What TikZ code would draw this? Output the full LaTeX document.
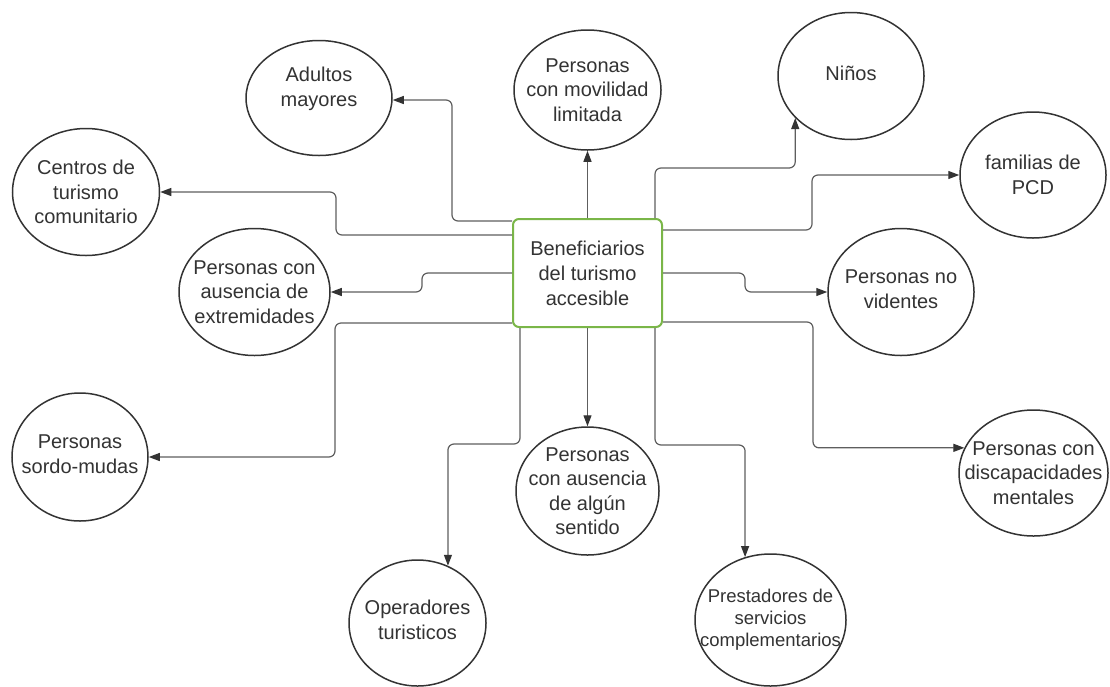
\documentclass[tikz,border=0pt]{standalone}
\usepackage{fontspec}
\setmainfont{Liberation Sans}
\usetikzlibrary{arrows.meta,shapes.geometric}
\definecolor{ink}{HTML}{333333}
\definecolor{wire}{HTML}{5E5E5E}
\definecolor{leaf}{HTML}{7AB648}
\begin{document}
\begin{tikzpicture}[x=1pt,y=-1pt,
  bubble/.style={ellipse, draw=ink, line width=1.5pt, inner sep=0pt, fill=white},
  dims/.style 2 args={minimum width=#1pt, minimum height=#2pt},
  caption/.style={inner sep=0pt, text=ink, align=center, font=\fontsize{20}{24.5}\selectfont},
  hub/.style={rectangle, rounded corners=6pt, draw=leaf, line width=2pt, fill=white,
    minimum width=149pt, minimum height=108pt, inner sep=0pt, align=center,
    text=ink, font=\fontsize{20}{25}\selectfont},
  link/.style={draw=wire, line width=1.2pt, rounded corners=6pt,
    -{Triangle[length=11pt,width=8pt,color=ink]}}]

\useasboundingbox (0,0) rectangle (1110,686);

% central box
\node[hub] (hub) at (587.5,273) {Beneficiarios\\del turismo\\accesible};

% surrounding groups: the ellipse keeps its own size, the caption sits on top
\node[bubble, dims={146}{115}, label={[caption, name=adultos-t, yshift=9pt]center:Adultos\\mayores}] (adultos) at (319,98) {};
\node[bubble, dims={147}{120}, label={[caption, name=movil-t]center:Personas\\con movilidad\\limitada}] (movil) at (587.5,90) {};
\node[bubble, dims={146}{127}, label={[caption, name=ninos-t, yshift=3pt]center:Niños}] (ninos) at (851,76) {};
\node[bubble, dims={146}{126}, label={[caption, name=familias-t]center:familias de\\PCD}] (familias) at (1033,175) {};
\node[bubble, dims={147}{127}, label={[caption, name=centros-t]center:Centros de\\turismo\\comunitario}] (centros) at (86,192) {};
\node[bubble, dims={151}{127}, label={[caption, name=extrem-t]center:Personas con\\ausencia de\\extremidades}] (extrem) at (254.5,292) {};
\node[bubble, dims={146}{127}, label={[caption, name=novid-t, yshift=3pt]center:Personas no\\videntes}] (novid) at (901,292) {};
\node[bubble, dims={149}{126}, label={[caption, name=discap-t]center:Personas con\\discapacidades\\mentales}] (discap) at (1033.5,473) {};
\node[bubble, dims={136}{128}, label={[caption, name=sordo-t, yshift=3pt]center:Personas\\sordo-mudas}] (sordo) at (80,457) {};
\node[bubble, dims={137}{126}, label={[caption, name=oper-t, yshift=3pt]center:Operadores\\turisticos}] (oper) at (417.5,623) {};
\node[bubble, dims={143}{128}, label={[caption, name=sentido-t]center:Personas\\con ausencia\\de algún\\sentido}] (sentido) at (587.5,491) {};
\node[bubble, dims={151}{132}, label={[caption, name=prest-t, font=\fontsize{18.5}{22}\selectfont]center:Prestadores de\\servicios\\complementarios}] (prest) at (770.5,620) {};

% connectors
\draw[link] (hub.west |- 0,221) -| (452,100) -- (adultos.east |- 0,100);
\draw[link] (hub.west |- 0,235) -| (336,192) -- (centros.east);
\draw[link] (hub.west |- 0,273) -| (422,292) -- (extrem.east);
\draw[link] (hub.west |- 0,323) -| (335,457) -- (sordo.east);
\draw[link] (hub.south -| 520,0) -- (520,444) -| (oper.62.6);
\draw[link] (hub.south) -- (sentido.north);
\draw[link] (hub.south -| 655,0) -- (655,445) -| (prest.112.3);
\draw[link] (hub.east |- 0,322) -- (813,322) |- (discap.160.7);
\draw[link] (hub.east |- 0,273) -| (745,292) -- (novid.west);
\draw[link] (hub.east |- 0,230) -| (812,175) -- (familias.west);
\draw[link] (hub.north -| 655,0) -- (655,168) -| (ninos.217);
\draw[link] (hub.north) -- (movil.south);

\end{tikzpicture}
\end{document}
